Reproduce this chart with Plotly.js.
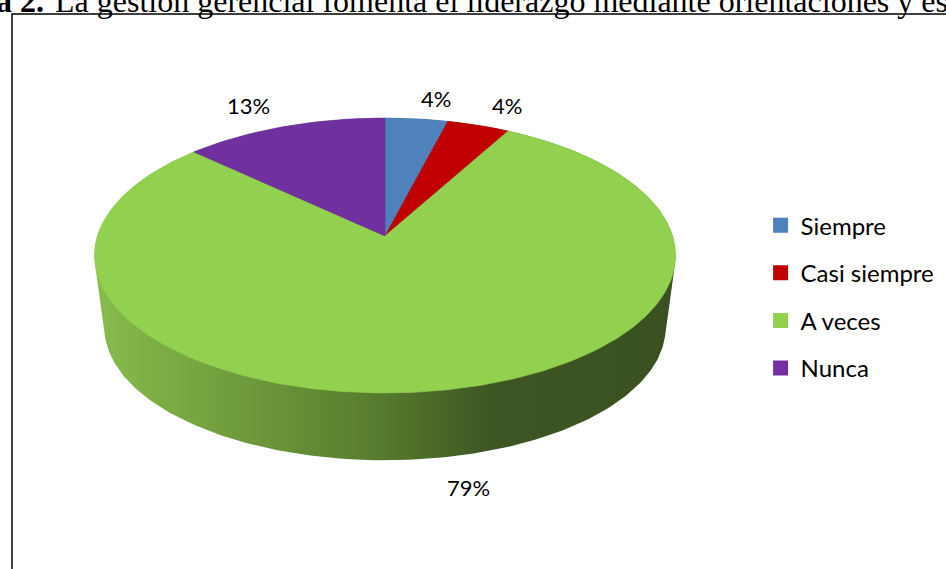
<!DOCTYPE html>
<html>
<head>
<meta charset="utf-8">
<script src="https://cdn.plot.ly/plotly-3.0.1.min.js"></script>
<style>html,body{margin:0;padding:0;background:#fff;}#chart{width:946px;height:569px;}</style>
</head>
<body>
<div id="chart"></div>
<script>
// ---- data ----
const categories = ["Siempre", "Casi siempre", "A veces", "Nunca"];
const percentValues = [4, 4, 79, 13];
const sliceColors = ["#4f81bd", "#c00000", "#92d050", "#7030a0"];
const titleBold = "a 2.";
const titleRest = "La gestión gerencial fomenta el liderazgo mediante orientaciones y es";

// ---- layout / projection constants (pixel-space axes) ----
const W = 946, H = 569;
const CX = 385, CY = 236;      // apex of the pie (projected centre)
const AX = 287.6, BY = 134.7;  // projected radii
const K = -0.1418;             // perspective factor
const ECX = 385.5, ECY = 255.5; // ellipse centre
const DEPTH = 72, BSCALE = 0.966;
const labelPos = [[436, 98], [507, 105], [468, 487], [248, 105]];

function topPt(deg) {
  const t = deg * Math.PI / 180;
  const u = Math.sin(t), v = -Math.cos(t);
  const den = 1 + K * v;
  return [CX + AX * u / den, CY + BY * v / den];
}
function botPt(deg) {
  const p = topPt(deg);
  return [ECX + BSCALE * (p[0] - ECX), ECY + BSCALE * (p[1] - ECY) + DEPTH];
}
function hull(points) {
  const pts = points.slice().sort((a, b) => a[0] - b[0] || a[1] - b[1]);
  const cross = (o, a, b) => (a[0] - o[0]) * (b[1] - o[1]) - (a[1] - o[1]) * (b[0] - o[0]);
  const lower = [], upper = [];
  for (const p of pts) { while (lower.length >= 2 && cross(lower[lower.length - 2], lower[lower.length - 1], p) <= 0) lower.pop(); lower.push(p); }
  for (let i = pts.length - 1; i >= 0; i--) { const p = pts[i]; while (upper.length >= 2 && cross(upper[upper.length - 2], upper[upper.length - 1], p) <= 0) upper.pop(); upper.push(p); }
  upper.pop(); lower.pop();
  return lower.concat(upper);
}

const traces = [];
// side wall (extrusion)
const allPts = [];
for (let d = 0; d < 360; d += 1) { allPts.push(topPt(d)); allPts.push(botPt(d)); }
const h = hull(allPts);
h.push(h[0]);
traces.push({
  type: "scatter", mode: "lines", x: h.map(p => p[0]), y: h.map(p => p[1]),
  fill: "toself", line: {width: 0, color: "rgba(0,0,0,0)"},
  fillgradient: {type: "horizontal", colorscale: [[0, "#88bb4c"], [0.25, "#6f9c3c"], [0.5, "#557a2d"], [0.68, "#3e5623"], [1, "#3a5021"]]},
  hoverinfo: "skip", showlegend: false
});

// top face slices
const total = percentValues.reduce((a, b) => a + b, 0);
let start = 0;
percentValues.forEach((val, i) => {
  const a0 = start, a1 = start + val / total * 360;
  start = a1;
  const xs = [CX], ys = [CY];
  const n = Math.max(2, Math.ceil(a1 - a0));
  for (let j = 0; j <= n; j++) { const p = topPt(a0 + (a1 - a0) * j / n); xs.push(p[0]); ys.push(p[1]); }
  xs.push(CX); ys.push(CY);
  traces.push({
    type: "scatter", mode: "lines", x: xs, y: ys, fill: "toself",
    fillcolor: sliceColors[i], line: {width: 0.6, color: sliceColors[i]},
    hoverinfo: "skip", showlegend: false, name: categories[i]
  });
});

// legend entries
categories.forEach((c, i) => {
  traces.push({
    type: "scatter", mode: "markers", x: [null], y: [null], name: c,
    marker: {symbol: "square", size: 15, color: sliceColors[i]},
    legendgroup: "g" + i, showlegend: true
  });
});

const annotations = percentValues.map((v, i) => ({
  x: labelPos[i][0], y: labelPos[i][1], xref: "x", yref: "y",
  text: v + "%", showarrow: false, xanchor: "center", yanchor: "middle",
  font: {family: "Lato, sans-serif", size: 22, color: "#000"}
}));
annotations.push({
  x: 46 / W, y: 1 - 0.5 / H, xref: "paper", yref: "paper", text: "<b>" + titleBold + "</b>", showarrow: false,
  xanchor: "right", yanchor: "middle", font: {family: "Liberation Serif, serif", size: 32, color: "#000"}
});
annotations.push({
  x: 53 / W, y: 1 - 0.5 / H, xref: "paper", yref: "paper", text: titleRest, showarrow: false,
  xanchor: "left", yanchor: "middle", font: {family: "Liberation Serif, serif", size: 32, color: "#000"}
});

const layout = {
  width: W, height: H,
  margin: {l: 0, r: 0, t: 0, b: 0},
  paper_bgcolor: "#fff", plot_bgcolor: "#fff",
  xaxis: {range: [0, W], visible: false, fixedrange: true},
  yaxis: {range: [H, 0], visible: false, fixedrange: true},
  showlegend: true,
  legend: {
    x: 0.804, y: 0.643, xanchor: "left", yanchor: "top",
    font: {family: "Lato, sans-serif", size: 24, color: "#000"},
    tracegroupgap: 13.4, traceorder: "grouped", bgcolor: "rgba(0,0,0,0)"
  },
  shapes: [{type: "rect", xref: "x", yref: "y", x0: 12, y0: 14, x1: W + 10, y1: H + 10,
            line: {color: "#000", width: 1.5}, layer: "below"}],
  annotations: annotations
};

Plotly.newPlot("chart", traces, layout, {displayModeBar: false, staticPlot: true});
</script>
</body>
</html>
